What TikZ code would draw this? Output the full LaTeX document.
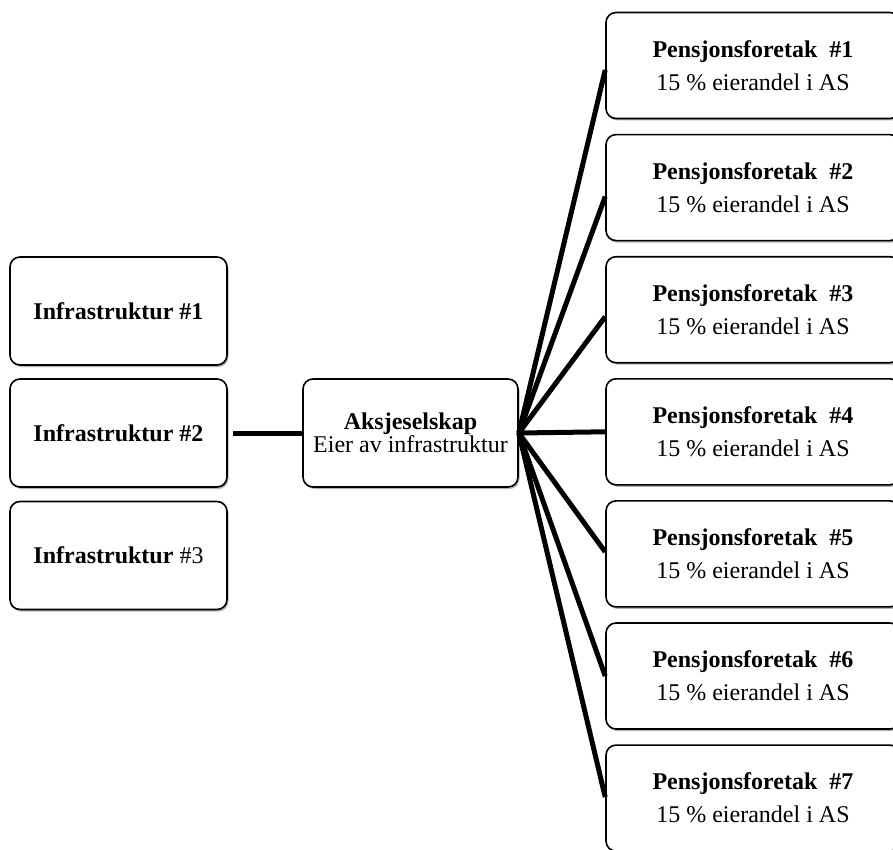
\documentclass[tikz,border=0pt]{standalone}
\usepackage{fontspec}
\setmainfont{Liberation Serif}
\usetikzlibrary{shadows}
\begin{document}
\begin{tikzpicture}[x=1pt,y=-1pt,
  boxbase/.style={draw=black, line width=1.6pt, rounded corners=10pt, fill=white,
    drop shadow={shadow xshift=1.5pt, shadow yshift=-2pt, opacity=0.3, fill=black},
    align=center, inner sep=0pt, font=\fontsize{24}{22}\selectfont},
  infrabox/.style={boxbase, minimum width=217pt, minimum height=108pt},
  centerbox/.style={boxbase, minimum width=215pt, minimum height=108pt},
  pensbox/.style={boxbase, minimum width=294pt, minimum height=106pt, font=\fontsize{24}{33}\selectfont},
  link/.style={line width=5pt, black}
]
\clip (0,0) rectangle (893,850);
\fill[white] (0,0) rectangle (893,850);

\node[infrabox] (i1) at (118.5,311) {\textbf{Infrastruktur \#1}};
\node[infrabox] (i2) at (118.5,433) {\textbf{Infrastruktur \#2}};
\node[infrabox] (i3) at (118.5,555.5) {\textbf{Infrastruktur} \#3};

\node[centerbox] (as) at (410.5,433) {\textbf{Aksjeselskap}\\Eier av infrastruktur};

\foreach \k/\y in {1/65.5,2/187.6,3/309.7,4/431.8,5/553.9,6/676,7/798.1}{
  \node[pensbox] (p\k) at (753,\y) {\textbf{Pensjonsforetak \ \#\k}\\15 \% eierandel i AS};
}

\coordinate (i2e) at ([xshift=5pt]i2.east);
\draw[link] (i2e) -- (as.west);
\foreach \k/\dy in {1/4.5,2/9,3/7,4/0,5/-2,6/0,7/-1}{
  \draw[link] (as.east) -- ([yshift=-\dy pt]p\k.west);
}
\end{tikzpicture}
\end{document}
